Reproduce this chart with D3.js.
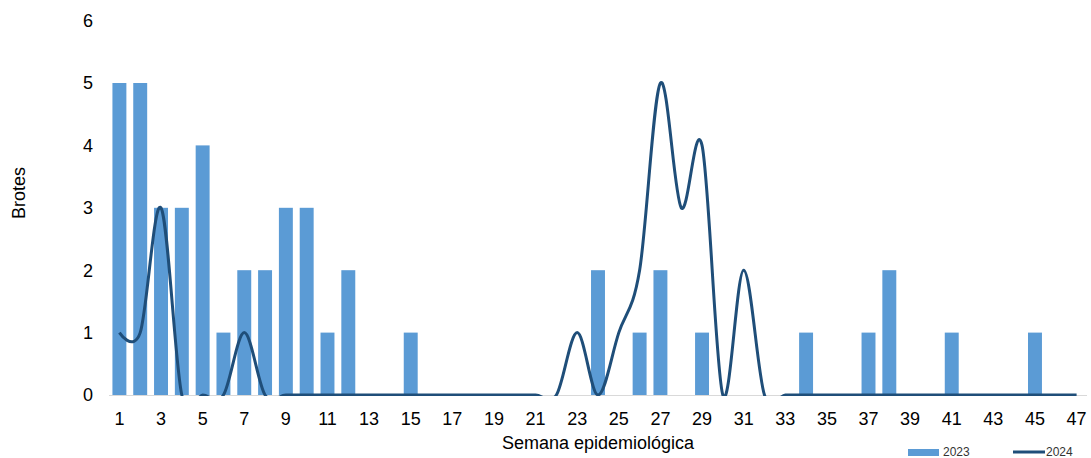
<!DOCTYPE html>
<html>
<head>
<meta charset="utf-8">
<script src="https://cdn.jsdelivr.net/npm/d3@7"></script>
<style>
  body { margin: 0; background: #fff; }
  text { font-family: "Liberation Sans", Arial, sans-serif; fill: #000; }
</style>
</head>
<body>
<svg id="chart" width="1091" height="458"></svg>
<script>
const weeks = d3.range(1, 48);
const values2023 = [5,5,3,3,4,1,2,2,3,3,1,2,0,0,1,0,0,0,0,0,0,0,0,2,0,1,2,0,1,0,0,0,0,1,0,0,1,2,0,0,1,0,0,0,1,0,0];
const values2024 = [1,1,3,0,0,0,1,0,0,0,0,0,0,0,0,0,0,0,0,0,0,0,1,0,1,2,5,3,4,0,2,0,0,0,0,0,0,0,0,0,0,0,0,0,0,0,0];
const yTicks = [0,1,2,3,4,5,6];
const xTickLabels = weeks.filter(w => w % 2 === 1);
const seriesNames = ["2023", "2024"];

const svg = d3.select("#chart");
const plotLeft = 109, plotRight = 1087, plotTop = 20.6, plotBottom = 395;

const x = d3.scaleBand().domain(weeks).range([plotLeft, plotRight]).paddingInner(0.33).paddingOuter(0.165);
const xc = w => x(w) + x.bandwidth() / 2;
const y = d3.scaleLinear().domain([0, 6]).range([plotBottom, plotTop]);

// bars
svg.append("g").selectAll("rect").data(weeks).join("rect")
  .attr("x", d => x(d))
  .attr("width", x.bandwidth())
  .attr("y", (d, i) => y(values2023[i]))
  .attr("height", (d, i) => y(0) - y(values2023[i]))
  .attr("fill", "#5B9BD5");

// x axis line
svg.append("line").attr("x1", plotLeft).attr("x2", plotRight).attr("y1", y(0) + 0.5).attr("y2", y(0) + 0.5)
  .attr("stroke", "#d9d9d9").attr("stroke-width", 1);

// clip for line
svg.append("clipPath").attr("id", "clip").append("rect")
  .attr("x", 0).attr("y", 0).attr("width", 1091).attr("height", y(0) + 1);

const line = d3.line()
  .x((d, i) => xc(weeks[i]))
  .y(d => y(d))
  .curve(d3.curveCardinal.tension(0));

svg.append("path").datum(values2024)
  .attr("d", line)
  .attr("fill", "none")
  .attr("stroke", "#1F4E79")
  .attr("stroke-width", 3)
  .attr("clip-path", "url(#clip)");

// y ticks
svg.append("g").selectAll("text").data(yTicks).join("text")
  .attr("x", 93).attr("y", d => y(d)).attr("dy", "0.36em")
  .attr("text-anchor", "end").style("font-size", "18px")
  .text(d => d);

// x ticks
svg.append("g").selectAll("text").data(xTickLabels).join("text")
  .attr("x", d => xc(d)).attr("y", 425)
  .attr("text-anchor", "middle").style("font-size", "18px")
  .text(d => d);

// axis titles
svg.append("text").attr("x", (plotLeft + plotRight) / 2).attr("y", 449)
  .attr("text-anchor", "middle").style("font-size", "18px")
  .text("Semana epidemiológica");

svg.append("text").attr("transform", "translate(25,193) rotate(-90)")
  .attr("text-anchor", "middle").style("font-size", "18px")
  .text("Brotes");

// legend
const lg = svg.append("g");
lg.append("rect").attr("x", 908).attr("y", 449).attr("width", 31).attr("height", 7).attr("fill", "#5B9BD5");
lg.append("text").attr("x", 943).attr("y", 456).style("font-size", "12px").style("fill", "#333").text(seriesNames[0]);
lg.append("line").attr("x1", 1013).attr("x2", 1045).attr("y1", 452).attr("y2", 452)
  .attr("stroke", "#1F4E79").attr("stroke-width", 3);
lg.append("text").attr("x", 1046).attr("y", 456).style("font-size", "12px").style("fill", "#333").text(seriesNames[1]);
</script>
</body>
</html>
